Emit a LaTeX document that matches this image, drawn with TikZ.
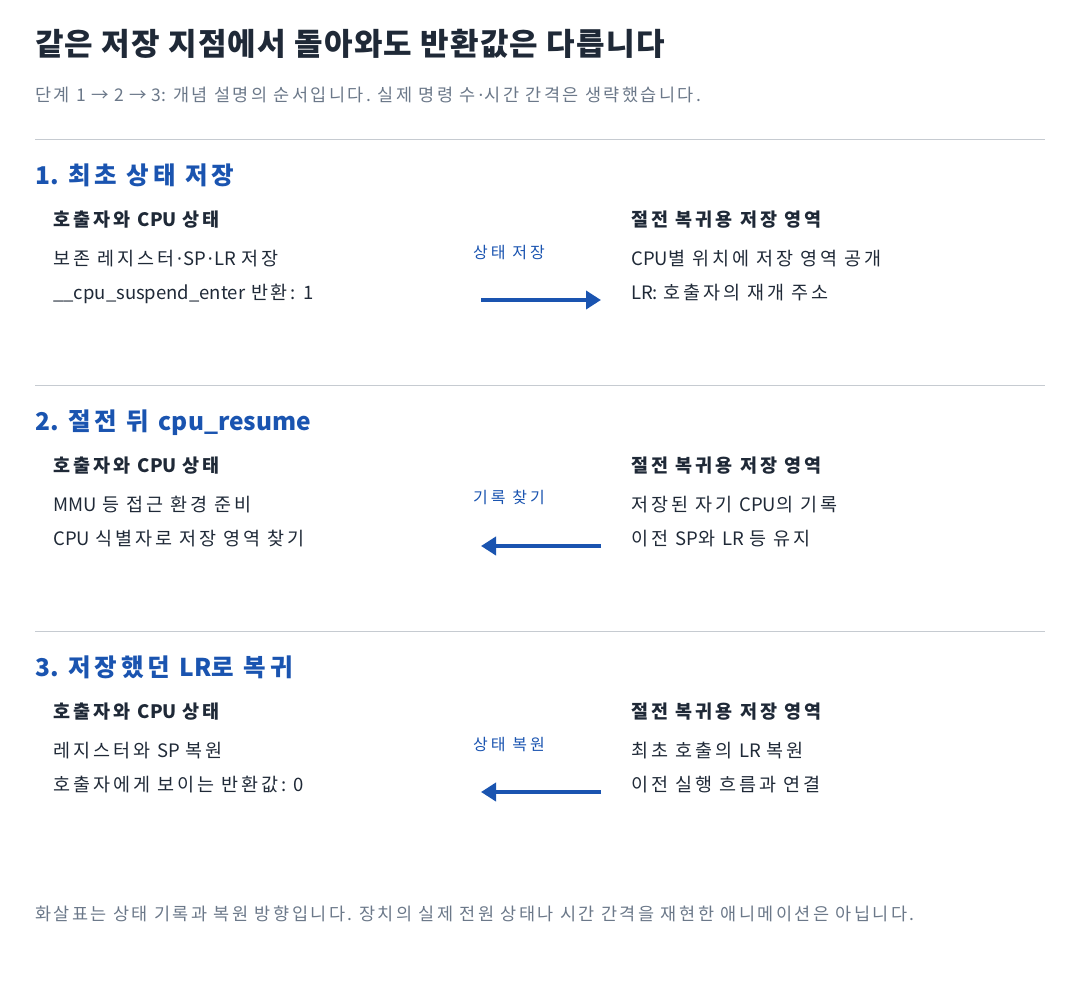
\documentclass[tikz,border=0pt]{standalone}
\usepackage{fontspec}
\setmainfont{Noto Sans CJK KR}
\newfontfamily\latfont{Noto Sans}
\newcommand\md{{\latfont ·}}
\usetikzlibrary{arrows.meta}
% extra tracking after Hangul syllables
\XeTeXinterchartokenstate=1
\newXeTeXintercharclass\hgcls
\count255="AC00
\loop\XeTeXcharclass\count255=\hgcls\ifnum\count255<"D7A3 \advance\count255 by 1 \repeat
\def\hgk{0.16em}
\XeTeXinterchartoks\hgcls\hgcls={\kern\hgk\relax}
\XeTeXinterchartoks\hgcls 0={\kern\hgk\relax}
\XeTeXinterchartoks\hgcls 4095={\kern\hgk\relax}
\XeTeXinterchartoks 0 4095={\kern0.08em\relax}
\definecolor{ink}{HTML}{1F2937}
\definecolor{muted}{HTML}{6B7889}
\definecolor{accent}{HTML}{1A54B0}
\definecolor{rule}{HTML}{C6CBD1}
\tikzset{
  x=1pt,y=-1pt,
  txt/.style={anchor=base west,inner sep=0pt,text=ink,font=\fontsize{18.5}{22}\selectfont\def\hgk{0.16em}},
  title/.style={txt,font=\fontsize{31}{36}\selectfont\bfseries\def\hgk{0.04em}},
  sub/.style={txt,text=muted,font=\fontsize{17.5}{21}\selectfont\def\hgk{0.14em}},
  head/.style={txt,text=accent,font=\fontsize{24.5}{29}\selectfont\bfseries\def\hgk{0.16em}},
  colhead/.style={txt,font=\fontsize{18.5}{22}\selectfont\bfseries\def\hgk{0.165em}},
  lbl/.style={txt,text=accent,font=\fontsize{16}{19}\selectfont\def\hgk{0.19em}},
  sep/.style={draw=rule,line width=1pt},
  flow/.style={draw=accent,line width=4.5pt,-{Triangle[length=15pt,width=18pt]}},
}
\begin{document}
\begin{tikzpicture}
\useasboundingbox (0,0) rectangle (1080,990);
\node[title] (t) at (35,56) {같은 저장 지점에서 돌아와도 반환값은 다릅니다};
\node[sub] (s) at (35,102) {단계 1 → 2 → 3: 개념 설명의 순서입니다. 실제 명령 수\md 시간 간격은 생략했습니다.};
% section 1
\coordinate (r1a) at (35,139.5); \coordinate (r1b) at (1045,139.5);
\draw[sep] (r1a) -- (r1b);
\node[head] (h1) at (35,184) {1. 최초 상태 저장};
\node[colhead] (c1l) at (53,226) {호출자와 CPU 상태};
\node[colhead] (c1r) at (631,226) {절전 복귀용 저장 영역};
\node[txt] (b1l1) at (53,265) {보존 레지스터\md SP\md LR 저장};
\node[txt] (b1l2) at (53,299) {\detokenize{__cpu_suspend_enter} 반환: 1};
\node[txt] (b1r1) at (631,265) {CPU별 위치에 저장 영역 공개};
\node[txt] (b1r2) at (631,299) {LR: 호출자의 재개 주소};
\node[lbl] (l1) at (473,258) {상태 저장};
\coordinate (a1s) at (481,300); \coordinate (a1e) at (601,300);
\draw[flow] (a1s) -- (a1e);
% section 2
\coordinate (r2a) at (35,385.5); \coordinate (r2b) at (1045,385.5);
\draw[sep] (r2a) -- (r2b);
\node[head] (h2) at (35,430) {2. 절전 뒤 \detokenize{cpu_resume}};
\node[colhead] (c2l) at (53,472) {호출자와 CPU 상태};
\node[colhead] (c2r) at (631,472) {절전 복귀용 저장 영역};
\node[txt] (b2l1) at (53,511) {MMU 등 접근 환경 준비};
\node[txt] (b2l2) at (53,545) {CPU 식별자로 저장 영역 찾기};
\node[txt] (b2r1) at (631,511) {저장된 자기 CPU의 기록};
\node[txt] (b2r2) at (631,545) {이전 SP와 LR 등 유지};
\node[lbl] (l2) at (473,503) {기록 찾기};
\coordinate (a2s) at (601,546); \coordinate (a2e) at (481,546);
\draw[flow] (a2s) -- (a2e);
% section 3
\coordinate (r3a) at (35,631.5); \coordinate (r3b) at (1045,631.5);
\draw[sep] (r3a) -- (r3b);
\node[head] (h3) at (35,676) {3. 저장했던 LR로 복귀};
\node[colhead] (c3l) at (53,718) {호출자와 CPU 상태};
\node[colhead] (c3r) at (631,718) {절전 복귀용 저장 영역};
\node[txt] (b3l1) at (53,757) {레지스터와 SP 복원};
\node[txt] (b3l2) at (53,791) {호출자에게 보이는 반환값: 0};
\node[txt] (b3r1) at (631,757) {최초 호출의 LR 복원};
\node[txt] (b3r2) at (631,791) {이전 실행 흐름과 연결};
\node[lbl] (l3) at (473,750) {상태 복원};
\coordinate (a3s) at (601,792); \coordinate (a3e) at (481,792);
\draw[flow] (a3s) -- (a3e);
% footer
\node[sub] (f) at (35,920) {화살표는 상태 기록과 복원 방향입니다. 장치의 실제 전원 상태나 시간 간격을 재현한 애니메이션은 아닙니다.};
\end{tikzpicture}
\end{document}
